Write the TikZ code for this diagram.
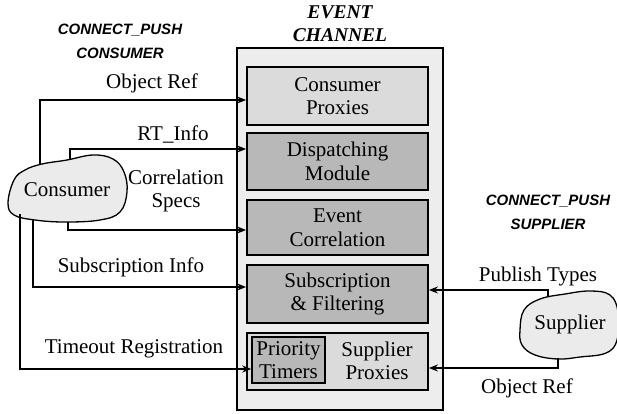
\documentclass[tikz,border=0pt]{standalone}
\usepackage{fontspec}
\setmainfont{Liberation Serif}
\setsansfont{Liberation Sans}
\usetikzlibrary{arrows.meta}
\definecolor{outerfill}{gray}{0.93}
\definecolor{lightfill}{gray}{0.86}
\definecolor{darkfill}{gray}{0.72}
\definecolor{cloudfill}{gray}{0.92}
\tikzset{
  lbl/.style={font=\fontsize{21}{23.5}\selectfont, inner sep=0pt, align=center},
  ttl/.style={font=\fontsize{19.5}{23}\selectfont\bfseries\itshape, inner sep=0pt, align=center},
  api/.style={font=\fontsize{15}{23}\selectfont\sffamily\bfseries\itshape, inner sep=0pt},
  inbox/.style={draw, line width=1.8pt, inner sep=0pt, align=center, font=\fontsize{21}{23.5}\selectfont},
  conn/.style={line width=1.3pt, -{Stealth[length=9pt,width=7pt]}},
  cloudline/.style={draw, line width=1.3pt, fill=cloudfill}
}
\begin{document}
\begin{tikzpicture}[x=1pt,y=-1pt]
\useasboundingbox (0,0) rectangle (617,413);
% titles
\node[ttl] (title) at (340,24) {EVENT\\CHANNEL};
\node[api] (cpc1) at (120,30) {CONNECT\_PUSH};
\node[api] (cpc2) at (120,53) {CONSUMER};
\node[api] (cps1) at (548,201) {CONNECT\_PUSH};
\node[api] (cps2) at (548,224) {SUPPLIER};
% event channel
\node[draw, line width=1.5pt, fill=outerfill, minimum width=206pt, minimum height=362pt, inner sep=0pt] (ec) at (340,229) {};
\node[inbox, fill=lightfill, minimum width=181pt, minimum height=58pt] (cp) at (337.5,96) {Consumer\\Proxies};
\node[inbox, fill=darkfill, minimum width=181pt, minimum height=57pt] (dm) at (337.5,161.5) {Dispatching\\Module};
\node[inbox, fill=darkfill, minimum width=181pt, minimum height=55pt] (cor) at (337.5,227.5) {Event\\Correlation};
\node[inbox, fill=darkfill, minimum width=181pt, minimum height=58pt] (sf) at (337.5,294) {Subscription\\\& Filtering};
\node[inbox, fill=lightfill, minimum width=181pt, minimum height=57pt] (bot) at (337.5,361.5) {};
\node[draw, line width=1.5pt, fill=darkfill, minimum width=73pt, minimum height=46pt, inner sep=0pt, align=center, font=\fontsize{21}{23.5}\selectfont] (pt) at (288.5,360) {Priority\\Timers};
\node[lbl] (sp) at (377,361) {Supplier\\Proxies};
% consumer cloud
\path[cloudline] plot[smooth cycle, tension=0.65] coordinates {(8,203) (14,180) (25,170) (42,164) (67,160) (93,155) (113,159) (124,172) (127,192) (120,212) (100,220) (65,222) (35,220) (14,215)};
\node[lbl] (cons) at (67,190) {Consumer};
% supplier cloud
\path[cloudline] plot[smooth cycle, tension=0.65] coordinates {(520,330) (524,310) (540,299) (565,294) (590,291) (610,295) (618,312) (617,340) (606,353) (580,357) (558,359) (535,355) (522,345)};
\node[lbl] (sup) at (570,324) {Supplier};
% connector labels
\node[lbl] (l1) at (152,83) {Object Ref};
\node[lbl] (l2) at (173,134) {RT\_Info};
\node[lbl] (l3) at (176,191) {Correlation\\Specs};
\node[lbl] (l4) at (131,267) {Subscription Info};
\node[lbl] (l5) at (134,349) {Timeout Registration};
\node[lbl] (l6) at (538,276) {Publish Types};
\node[lbl] (l7) at (527,388) {Object Ref};
% connector anchor points
\coordinate (a1) at (40,164);  \coordinate (k1) at (40,100);
\coordinate (a2) at (70,159);  \coordinate (k2) at (70,149);
\coordinate (a3) at (68,222);  \coordinate (k3) at (68,230);
\coordinate (a4) at (33,219);  \coordinate (k4) at (33,287);
\coordinate (a5) at (20,214);  \coordinate (k5) at (20,369);
\coordinate (a6) at (548,296); \coordinate (k6) at (548,290);
\coordinate (a7) at (558,358); \coordinate (k7) at (558,368);
\draw[conn] (a1) -- (k1) -- (k1 -| cp.west);
\draw[conn] (a2) -- (k2) -- (k2 -| dm.west);
\draw[conn] (a3) -- (k3) -- (k3 -| cor.west);
\draw[conn] (a4) -- (k4) -- (k4 -| sf.west);
\draw[conn] (a5) -- (k5) -- (k5 -| pt.west);
\draw[conn] (a6) -- (k6) -- (k6 -| sf.east);
\draw[conn] (a7) -- (k7) -- (k7 -| bot.east);
\end{tikzpicture}
\end{document}
